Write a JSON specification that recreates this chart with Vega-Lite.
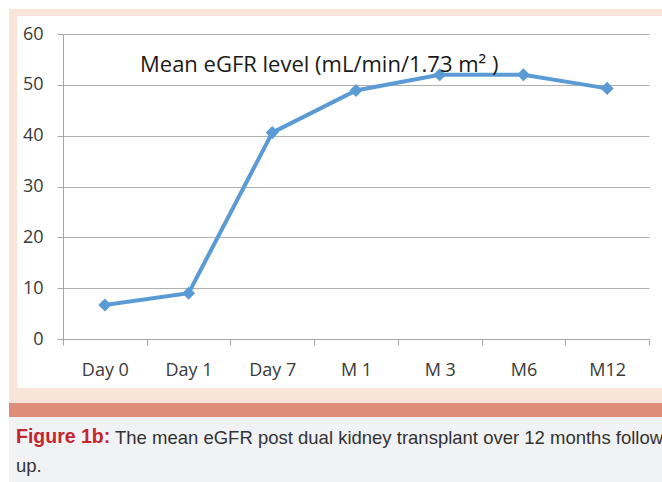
{
  "$schema": "https://vega.github.io/schema/vega-lite/v6.json",
  "background": "white",
  "padding": {"left": 9, "top": 9, "right": 0, "bottom": 0},
  "config": {"view": {"stroke": null}},
  "datasets": {
    "egfr": [
      {"time": "Day 0", "egfr": 6.7},
      {"time": "Day 1", "egfr": 9.0},
      {"time": "Day 7", "egfr": 40.6},
      {"time": "M 1", "egfr": 48.9},
      {"time": "M 3", "egfr": 52.0},
      {"time": "M6", "egfr": 52.0},
      {"time": "M12", "egfr": 49.3}
    ],
    "panel": [{}]
  },
  "spacing": 0,
  "bounds": "full",
  "vconcat": [
    {"width": 653, "height": 7, "data": {"name": "panel"}, "mark": {"type": "rect", "color": "#f9e4da"}},
    {
      "spacing": 0,
      "bounds": "flush",
      "hconcat": [
        {"width": 8, "height": 372, "data": {"name": "panel"}, "mark": {"type": "rect", "color": "#f9e4da"}},
        {"width": 46, "height": 372, "data": {"name": "panel"}, "mark": {"type": "rect", "color": "white"}},
        {
          "spacing": 0,
          "bounds": "flush",
          "vconcat": [
            {"width": 586, "height": 18, "data": {"name": "panel"}, "mark": {"type": "rect", "color": "white"}},
            {
              "width": 586,
              "height": 305,
              "data": {"name": "egfr"},
              "title": {
                "text": "Mean eGFR level (mL/min/1.73 m² )",
                "anchor": "start",
                "frame": "group",
                "orient": "top",
                "offset": 0,
                "dx": 77,
                "dy": 69,
                "baseline": "alphabetic",
                "font": "Open Sans",
                "fontSize": 22,
                "fontWeight": "normal",
                "color": "#1a1a1a",
                "zindex": 1
              },
              "encoding": {
                "x": {
                  "field": "time",
                  "type": "nominal",
                  "sort": null,
                  "bandPosition": 0.5,
                  "scale": {"type": "band", "paddingInner": 0, "paddingOuter": 0},
                  "axis": {
                    "title": null,
                    "grid": false,
                    "tickBand": "extent",
                    "tickSize": 6,
                    "tickColor": "#a6a6a6",
                    "domainColor": "#a6a6a6",
                    "labelAngle": 0,
                    "labelFont": "Open Sans",
                    "labelFontSize": 18,
                    "labelColor": "#3a3a3a",
                    "labelBaseline": "alphabetic",
                    "labelPadding": 30
                  }
                },
                "y": {
                  "field": "egfr",
                  "type": "quantitative",
                  "scale": {"domain": [0, 60], "nice": false},
                  "axis": {
                    "title": null,
                    "values": [0, 10, 20, 30, 40, 50, 60],
                    "grid": true,
                    "gridColor": "#b0b0b0",
                    "tickColor": "#a6a6a6",
                    "domainColor": "#a6a6a6",
                    "tickSize": 6,
                    "labelFont": "Open Sans",
                    "labelFontSize": 18,
                    "labelColor": "#3a3a3a",
                    "labelPadding": 14
                  }
                }
              },
              "layer": [
                {"mark": {"type": "line", "color": "#5b9bd5", "strokeWidth": 4}},
                {"mark": {"type": "point", "shape": "diamond", "filled": true, "size": 170, "color": "#5b9bd5", "opacity": 1}}
              ]
            }
          ]
        }
      ]
    },
    {"width": 653, "height": 15, "data": {"name": "panel"}, "mark": {"type": "rect", "color": "#f9e4da"}},
    {"width": 653, "height": 14, "data": {"name": "panel"}, "mark": {"type": "rect", "color": "#de8d78"}},
    {
      "spacing": 0,
      "bounds": "flush",
      "hconcat": [
        {
          "width": 104,
          "height": 65,
          "data": {"name": "panel"},
          "mark": {"type": "rect", "color": "#f1f2f4"},
          "title": {
            "text": "Figure 1b:",
            "subtitle": "up.",
            "anchor": "start",
            "frame": "group",
            "orient": "top",
            "offset": 0,
            "dx": 7,
            "dy": 74,
            "baseline": "alphabetic",
            "font": "Liberation Sans",
            "fontSize": 19.5,
            "fontWeight": "bold",
            "color": "#c4262e",
            "subtitleFont": "Liberation Sans",
            "subtitleFontSize": 18.5,
            "subtitleFontWeight": "normal",
            "subtitleColor": "#333333",
            "subtitlePadding": 9,
            "limit": 1000,
            "zindex": 1
          }
        },
        {
          "width": 549,
          "height": 65,
          "data": {"name": "panel"},
          "mark": {"type": "rect", "color": "#f1f2f4"},
          "title": {
            "text": "The mean eGFR post dual kidney transplant over 12 months follow",
            "anchor": "start",
            "frame": "group",
            "orient": "top",
            "offset": 0,
            "dx": 2,
            "dy": 45,
            "baseline": "alphabetic",
            "font": "Liberation Sans",
            "fontSize": 18.5,
            "fontWeight": "normal",
            "color": "#333333",
            "limit": 1000,
            "zindex": 1
          }
        }
      ]
    }
  ]
}
